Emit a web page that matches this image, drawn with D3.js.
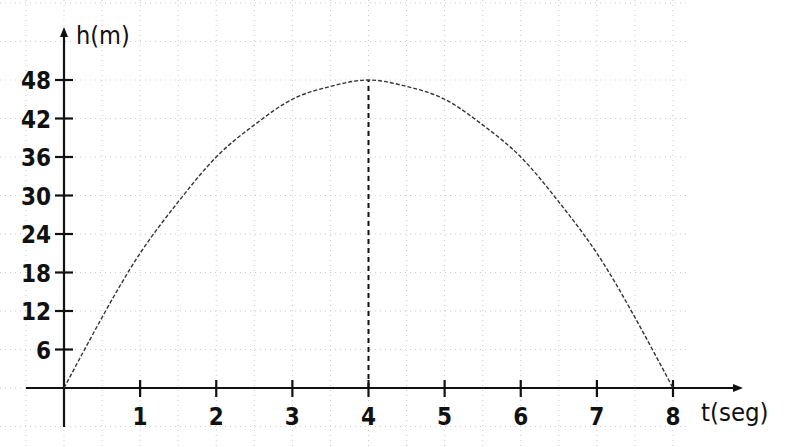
<!DOCTYPE html>
<html>
<head>
<meta charset="utf-8">
<script src="https://cdn.jsdelivr.net/npm/d3@7"></script>
<style>
  body { margin: 0; background: #fff; }
  text { font-family: "DejaVu Sans Condensed", "DejaVu Sans", sans-serif; fill: #111; }
</style>
</head>
<body>
<svg id="graf"></svg>
<script>
// tiempo (seg) y altura (m)
let tiempos = [0, 0.5, 1, 1.5, 2, 2.5, 3, 3.5, 4, 4.5, 5, 5.5, 6, 6.5, 7, 7.5, 8]
let alturas = [0, 11, 21, 29, 36, 41, 45, 47, 48, 47, 45, 41, 36, 29, 21, 11, 0]
let ticksT = [1, 2, 3, 4, 5, 6, 7, 8]
let ticksH = [6, 12, 18, 24, 30, 36, 42, 48]
let tMax = 4, hMax = 48

let w = 789, h = 447
let svg = d3.select('#graf').attr('width', w).attr('height', h)

let x = d3.scaleLinear().domain([0, 8]).range([64, 673])
let y = d3.scaleLinear().domain([0, 48]).range([388, 80])

// cuadricula punteada
let grid = svg.append('g')
  .attr('stroke', '#aaa')
  .attr('stroke-width', 1)
  .attr('stroke-dasharray', '1,4')
  .attr('opacity', 0.6)
grid.selectAll('line.v')
  .data(d3.range(-0.5, 8.01, 0.5))
  .enter().append('line')
  .attr('x1', d => x(d)).attr('x2', d => x(d))
  .attr('y1', 0).attr('y2', h)
grid.selectAll('line.h')
  .data(d3.range(-6, 61, 6))
  .enter().append('line')
  .attr('y1', d => y(d)).attr('y2', d => y(d))
  .attr('x1', 0).attr('x2', 690)

// ejes
let ejes = svg.append('g').attr('stroke', '#111').attr('stroke-width', 2.2)
ejes.append('line')
  .attr('x1', x(-0.5)).attr('x2', 737)
  .attr('y1', y(0)).attr('y2', y(0))
ejes.append('line')
  .attr('x1', x(0)).attr('x2', x(0))
  .attr('y1', 427).attr('y2', 34)
svg.append('path')
  .attr('d', `M743,${y(0)} L733,${y(0) - 4} L733,${y(0) + 4} Z`)
  .attr('fill', '#111')
svg.append('path')
  .attr('d', `M${x(0)},27 L${x(0) - 4},37 L${x(0) + 4},37 Z`)
  .attr('fill', '#111')

// marcas
ejes.selectAll('line.tx')
  .data(ticksT)
  .enter().append('line')
  .attr('x1', d => x(d)).attr('x2', d => x(d))
  .attr('y1', y(0) - 8).attr('y2', y(0) + 9)
ejes.selectAll('line.ty')
  .data(ticksH)
  .enter().append('line')
  .attr('y1', d => y(d)).attr('y2', d => y(d))
  .attr('x1', x(0) - 9).attr('x2', x(0) + 9)

svg.selectAll('text.tx')
  .data(ticksT)
  .enter().append('text')
  .attr('x', d => x(d))
  .attr('y', 425)
  .attr('text-anchor', 'middle')
  .attr('font-size', 24)
  .style('font-weight', 'bold')
  .text(d => d)
svg.selectAll('text.ty')
  .data(ticksH)
  .enter().append('text')
  .attr('x', 51)
  .attr('y', d => y(d) + 9)
  .attr('text-anchor', 'end')
  .attr('font-size', 24)
  .style('font-weight', 'bold')
  .text(d => d)

svg.append('text')
  .attr('x', 76).attr('y', 44)
  .attr('font-size', 25)
  .text('h(m)')
svg.append('text')
  .attr('x', 701).attr('y', 421)
  .attr('font-size', 25.5)
  .text('t(seg)')

// linea del vertice
svg.append('line')
  .attr('x1', x(tMax)).attr('x2', x(tMax))
  .attr('y1', y(0)).attr('y2', y(hMax))
  .attr('stroke', '#111')
  .attr('stroke-width', 2)
  .attr('stroke-dasharray', '5,4')

// parabola
let linea = d3.line()
  .x((d, i) => x(tiempos[i]))
  .y(d => y(d))
  .curve(d3.curveNatural)
svg.append('path')
  .datum(alturas)
  .attr('d', linea)
  .attr('fill', 'none')
  .attr('stroke', '#333')
  .attr('stroke-width', 1.4)
  .attr('stroke-dasharray', '4,2')
</script>
</body>
</html>
